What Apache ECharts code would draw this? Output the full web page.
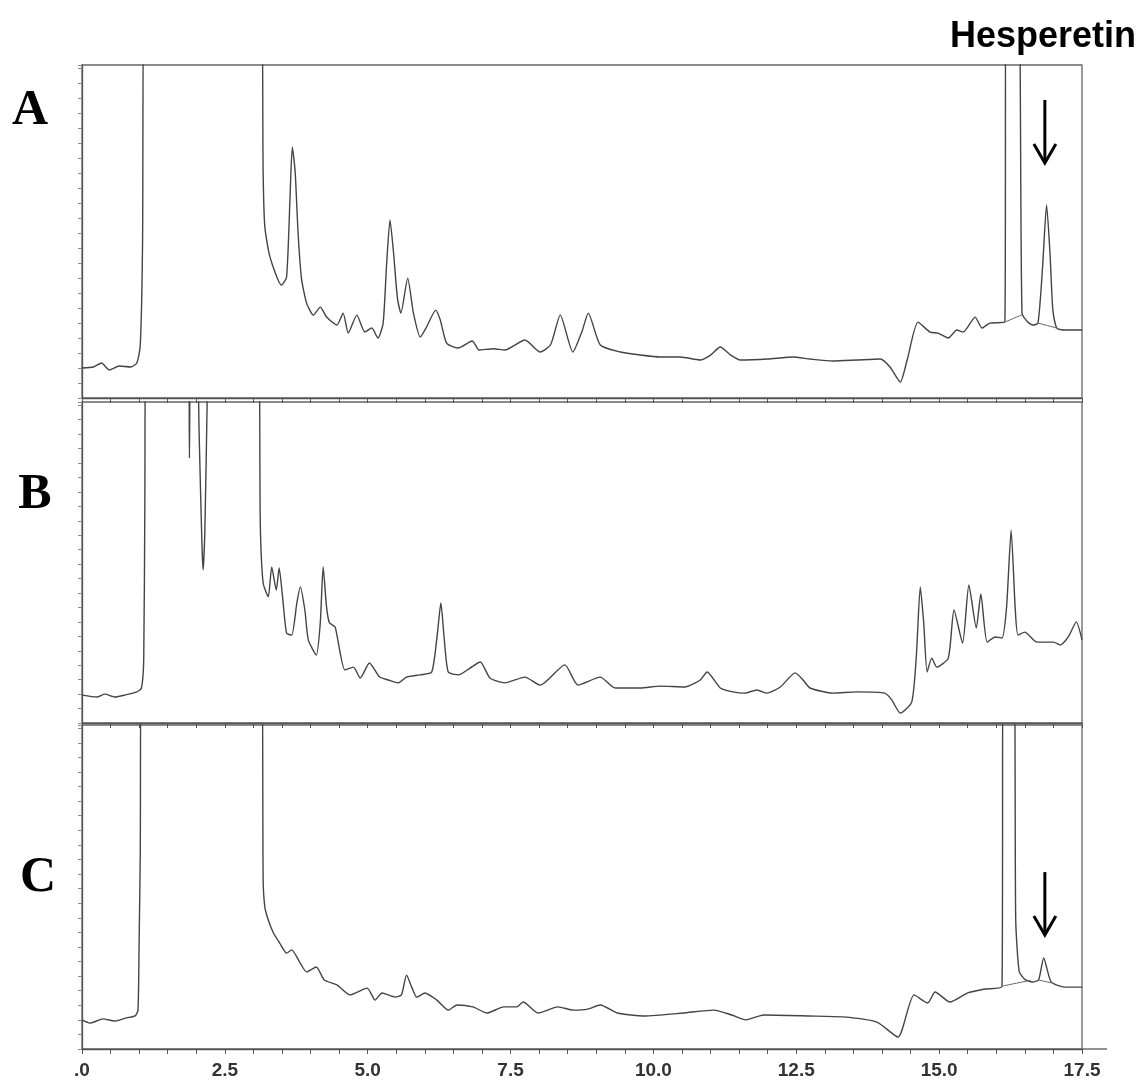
<!DOCTYPE html>
<html><head><meta charset="utf-8">
<script src="https://cdn.jsdelivr.net/npm/echarts@6/dist/echarts.min.js"></script>
<style>html,body{margin:0;padding:0;background:#fff}#c{width:1144px;height:1083px}</style>
</head><body><div id="c"></div>
<script>
// ---- data (retention time in min, detector response in % of panel full scale; >100 = off scale) ----
const timeTickLabels = ['.0','2.5','5.0','7.5','10.0','12.5','15.0','17.5'];
const panelNames = ['A','B','C'];
const compoundLabel = 'Hesperetin';
const hesperetinTime = 16.85;

const traceA = [
[0,9.0],[0.2,9.3],[0.34,10.5],[0.48,8.4],[0.65,9.6],[0.85,9.3],[0.96,10.5],[1.02,15.9],[1.06,47],[1.09,130],[3.13,130],
[3.17,67.6],[3.20,51.4],[3.29,42.3],[3.49,33.9],[3.58,36.3],[3.64,60],[3.68,75.4],[3.73,68],[3.78,50],[3.84,36],[3.93,28.5],[4.05,24.9],
[4.17,27.3],[4.28,24.3],[4.46,21.9],[4.57,25.5],[4.66,19.5],[4.81,24.9],[4.95,19.8],[5.07,21.0],[5.18,18.0],[5.27,22.5],
[5.33,40],[5.39,53.5],[5.45,44],[5.52,30],[5.58,25.5],[5.70,36.0],[5.80,25.5],[5.92,18.3],[6.03,21.3],[6.19,26.4],[6.27,23.4],[6.38,16.5],
[6.58,15.0],[6.83,17.1],[6.95,14.4],[7.20,14.8],[7.40,14.4],[7.75,17.4],[8.02,13.8],[8.20,16],[8.37,24.9],[8.59,13.8],[8.75,20],[8.86,25.5],[9.07,15.9],
[9.42,13.8],[9.77,12.9],[10.12,12.3],[10.47,12.3],[10.82,11.4],[11.0,12.9],[11.17,15.3],[11.35,12.9],[11.52,11.4],[12.0,11.7],
[12.44,12.3],[12.74,11.7],[13.14,11.1],[13.56,11.4],[13.97,11.7],[14.14,9.3],[14.32,4.8],[14.44,11.4],[14.63,22.8],[14.84,19.8],
[14.98,19.5],[15.16,18.0],[15.31,20.4],[15.42,19.8],[15.63,24.3],[15.75,21.0],[15.89,22.5],[16.15,22.8],[16.17,130],[16.38,130],
[16.45,25.5],[16.55,22.8],[16.64,21.9],[16.73,22.5],[16.81,39.3],[16.88,58.0],[16.94,43.5],[16.99,26.4],[17.06,21.0],[17.24,20.4],[17.5,20.4]
];
const baselineA1 = [[16.15,22.8],[16.45,25.0]];
const baselineA2 = [[16.73,22.5],[17.06,21.0]];

const traceB = [
[0,8.7],[0.26,8.1],[0.4,9.0],[0.58,8.1],[0.75,8.7],[0.96,9.7],[1.04,10.9],[1.08,19.6],[1.10,69.5],[1.12,130],[1.86,130],
[1.88,82.5],[1.91,130],[2.00,130],[2.05,90],[2.10,55],[2.12,47.7],[2.15,60],[2.19,100],[2.21,130],[3.08,130],[3.12,62.3],
[3.17,43.6],[3.26,39.3],[3.32,48.6],[3.40,41.4],[3.45,48.3],[3.51,39.3],[3.58,28.0],[3.67,27.4],[3.76,37.4],[3.82,42.4],
[3.90,35.2],[3.96,25.9],[4.10,21.2],[4.17,31.2],[4.22,48.6],[4.28,36.1],[4.33,31.2],[4.43,29.9],[4.60,16.5],[4.75,17.4],
[4.87,14.0],[5.03,18.7],[5.21,14.3],[5.36,13.4],[5.53,12.5],[5.68,14.3],[5.92,15.0],[6.12,15.9],[6.22,28],[6.28,37.4],[6.34,26],[6.41,15.9],
[6.59,15.0],[6.79,17.1],[6.97,19.0],[7.14,14.0],[7.40,12.5],[7.75,14.3],[8.02,11.8],[8.45,18.1],[8.68,11.8],[9.07,14.3],
[9.33,10.9],[9.77,10.9],[10.12,11.5],[10.55,11.2],[10.82,13.4],[10.94,15.9],[11.17,10.9],[11.39,9.7],[11.60,9.3],[11.81,10.3],
[11.99,9.3],[12.22,11.2],[12.48,15.6],[12.62,13.4],[12.74,10.9],[13.14,9.3],[13.56,9.7],[14.05,9.3],[14.17,7.2],[14.32,3.1],
[14.52,6.5],[14.60,20.6],[14.67,42.4],[14.73,31.2],[14.79,15.9],[14.87,20.2],[14.96,17.4],[15.16,20.2],[15.26,35.2],[15.41,24.9],
[15.52,43.0],[15.65,29.6],[15.73,40.2],[15.84,25.2],[15.98,26.8],[16.10,26.5],[16.18,36.1],[16.26,60.1],[16.33,36.1],[16.38,27.4],
[16.50,28.3],[16.71,25.2],[17.0,25.2],[17.12,24.3],[17.26,26.8],[17.40,31.5],[17.5,25.9]
];

const traceC = [
[0,9.0],[0.14,8.0],[0.37,9.3],[0.58,8.6],[0.78,9.6],[0.93,10.2],[0.98,12.0],[1.00,33.6],[1.02,61],[1.04,130],[3.14,130],
[3.17,52.2],[3.20,43.8],[3.26,39.8],[3.35,35.8],[3.46,32.7],[3.58,29.6],[3.67,30.6],[3.82,26.5],[3.93,23.8],[4.10,25.3],
[4.24,21.3],[4.46,19.8],[4.69,16.7],[4.99,18.8],[5.13,15.1],[5.25,17.3],[5.48,16.0],[5.59,16.7],[5.68,22.8],[5.77,19.1],
[5.86,16.0],[6.00,17.3],[6.21,15.1],[6.41,12.0],[6.56,13.6],[6.84,13.0],[7.09,11.1],[7.38,13.0],[7.61,13.0],[7.72,14.5],
[7.98,11.1],[8.33,13.0],[8.6,12.0],[8.85,12.3],[9.07,13.6],[9.37,11.1],[9.85,10.2],[10.52,11.1],[11.06,12.0],[11.37,10.5],
[11.62,9.0],[11.93,10.5],[12.71,10.2],[13.32,9.9],[13.91,8.3],[14.28,3.7],[14.56,16.7],[14.80,14.2],[14.93,17.6],[15.19,14.5],
[15.50,17.3],[15.80,18.5],[16.10,19.4],[16.12,130],[16.30,130],[16.34,40],[16.40,24],[16.50,21.5],[16.63,20.7],[16.74,21.3],
[16.83,28.1],[16.96,20.7],[17.20,19.1],[17.5,19.1]
];
const baselineC1 = [[16.10,19.4],[16.60,21.2]];
const baselineC2 = [[16.74,21.3],[17.02,20.2]];

// ---- layout ----
const grids = [
  {left:82, top:65, width:1000, height:333},
  {left:82, top:402, width:1000, height:321},
  {left:82, top:725, width:1000, height:324}
];
const axisColor = '#555';
const traceColor = '#444';

const xAxes = grids.map((g,i)=>({
  type:'value', gridIndex:i, min:0, max:17.5, interval:0.5,
  axisLine:{show:true, onZero:false, lineStyle:{color:axisColor, width:1.3}},
  axisTick:{show:true, length:5, lineStyle:{color:axisColor}},
  splitLine:{show:false},
  axisLabel: i===2 ? {
    show:true, margin:12, fontSize:19, fontWeight:'bold', color:'#333', fontFamily:'Liberation Sans',
    showMinLabel:true, showMaxLabel:true,
    formatter:(v)=>{const k=Math.round(v/2.5); return Math.abs(v-k*2.5)<1e-6 ? timeTickLabels[k] : '';}
  } : {show:false}
}));
const yAxes = grids.map((g,i)=>({
  type:'value', gridIndex:i, min:0, max:100, interval:4.5,
  axisLine:{show:true, onZero:false, lineStyle:{color:axisColor, width:1.3}},
  axisTick:{show:true, length:4, lineStyle:{color:'#888'}},
  axisLabel:{show:false}, splitLine:{show:false}
}));

function lineSeries(data, idx, w, col){
  return {type:'line', xAxisIndex:idx, yAxisIndex:idx, data:data, showSymbol:false, symbol:'none',
    smooth:0.2, clip:true, silent:true, lineStyle:{color:col||traceColor, width:w||1.4}};
}

const chart = echarts.init(document.getElementById('c'), null, {renderer:'canvas'});
chart.setOption({
  animation:false,
  backgroundColor:'#fff',
  grid: grids.map(g=>Object.assign({show:true, borderColor:'#666', borderWidth:1.3, backgroundColor:'transparent'}, g)),
  xAxis: xAxes,
  yAxis: yAxes,
  series: [
    lineSeries(traceA,0), lineSeries(baselineA1,0,1,'#666'), lineSeries(baselineA2,0,1,'#666'),
    lineSeries(traceB,1),
    lineSeries(traceC,2), lineSeries(baselineC1,2,1,'#666'), lineSeries(baselineC2,2,1,'#666')
  ]
});

// annotations
const gfx = [];
const letterPos = [[30,136],[35,520],[38,903]];
panelNames.forEach((n,i)=>{
  gfx.push({type:'text', x:letterPos[i][0], y:letterPos[i][1], style:{text:n, font:'bold 50px "Liberation Serif"', fill:'#000', textAlign:'center', textVerticalAlign:'bottom'}});
});
gfx.push({type:'text', x:1043, y:55, style:{text:compoundLabel, font:'bold 36px "Liberation Sans"', fill:'#000', textAlign:'center', textVerticalAlign:'bottom'}});

function arrow(gridIdx, vTop, vBot){
  const p1 = chart.convertToPixel({gridIndex:gridIdx}, [hesperetinTime, vTop]);
  const p2 = chart.convertToPixel({gridIndex:gridIdx}, [hesperetinTime, vBot]);
  gfx.push({type:'line', shape:{x1:p1[0], y1:p1[1], x2:p2[0], y2:p2[1]-1}, style:{stroke:'#000', lineWidth:3}});
  gfx.push({type:'polyline', shape:{points:[[p2[0]-11,p2[1]-19],[p2[0],p2[1]],[p2[0]+11,p2[1]-19]]}, style:{stroke:'#000', lineWidth:3, fill:null}});
}
arrow(0, 89.5, 70.6);
arrow(2, 54.6, 35.2);

const e = chart.convertToPixel({gridIndex:2}, [17.5, 0]);
gfx.push({type:'line', shape:{x1:e[0], y1:e[1], x2:e[0]+25, y2:e[1]}, style:{stroke:axisColor, lineWidth:1.3}});

chart.setOption({graphic: gfx});
</script>
</body></html>
